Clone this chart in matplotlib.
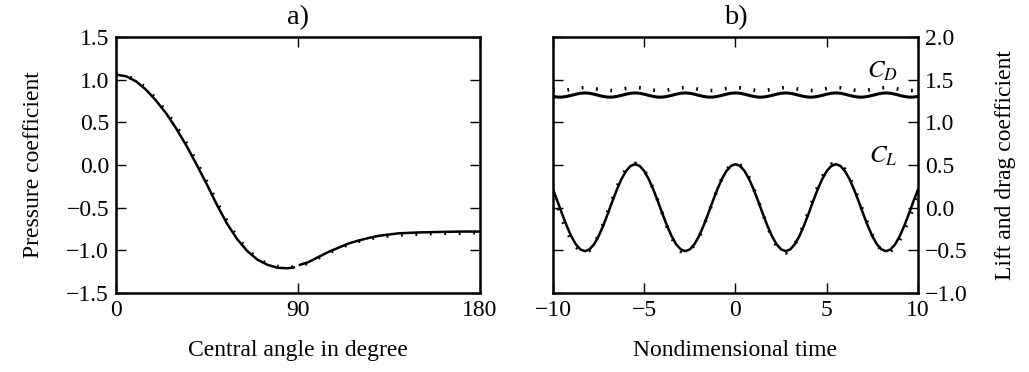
import matplotlib
matplotlib.use("Agg")
import matplotlib.pyplot as plt

# a) pressure coefficient over the cylinder surface
angle_front = [0, 5, 10, 15, 20, 25, 30, 35, 40, 45, 50, 55, 60, 65, 70, 75, 80, 85, 88]
cp_front = [1.06, 1.04, 0.98, 0.88, 0.75, 0.60, 0.42, 0.22, 0.00, -0.23, -0.47, -0.69,
            -0.87, -1.01, -1.11, -1.17, -1.205, -1.21, -1.20]
angle_back = [91, 95, 100, 105, 110, 115, 120, 125, 130, 135, 140, 150, 160, 170, 180]
cp_back = [-1.17, -1.14, -1.08, -1.02, -0.97, -0.92, -0.885, -0.855, -0.83, -0.815,
           -0.80, -0.79, -0.785, -0.78, -0.78]
angle_ref = [0, 5, 10, 15, 20, 25, 30, 35, 40, 45, 50, 55, 60, 65, 70, 75, 80, 85, 90,
             95, 100, 105, 110, 115, 120, 125, 130, 135, 140, 150, 160, 170, 180]
cp_ref = [1.07, 1.05, 0.99, 0.90, 0.77, 0.62, 0.45, 0.25, 0.03, -0.20, -0.44, -0.66,
          -0.85, -0.99, -1.10, -1.16, -1.19, -1.20, -1.19, -1.15, -1.09, -1.03, -0.98,
          -0.93, -0.895, -0.865, -0.845, -0.83, -0.82, -0.81, -0.80, -0.80, -0.79]

# b) lift and drag coefficient over time (step 0.25)
time = [-10 + 0.25 * i for i in range(81)]
cl = [0.212, 0.073, -0.073, -0.212, -0.334, -0.429, -0.489, -0.51, -0.489, -0.429,
      -0.334, -0.212, -0.073, 0.073, 0.212, 0.334, 0.429, 0.489, 0.51, 0.489,
      0.429, 0.334, 0.212, 0.073, -0.073, -0.212, -0.334, -0.429, -0.489, -0.51,
      -0.489, -0.429, -0.334, -0.212, -0.073, 0.073, 0.212, 0.334, 0.429, 0.489,
      0.51,
      0.489, 0.429, 0.334, 0.212, 0.073, -0.073, -0.212, -0.334, -0.429, -0.489,
      -0.51, -0.489, -0.429, -0.334, -0.212, -0.073, 0.073, 0.212, 0.334, 0.429,
      0.489, 0.51, 0.489, 0.429, 0.334, 0.212, 0.073, -0.073, -0.212, -0.334,
      -0.429, -0.489, -0.51, -0.489, -0.429, -0.334, -0.212, -0.073, 0.073, 0.212]
cl_ref = [0.15, 0.01, -0.14, -0.27, -0.38, -0.46, -0.51, -0.53, -0.50, -0.43,
          -0.32, -0.19, -0.05, 0.10, 0.24, 0.36, 0.45, 0.50, 0.52, 0.50,
          0.44, 0.34, 0.22, 0.08, -0.07, -0.22, -0.35, -0.45, -0.51, -0.53,
          -0.50, -0.44, -0.35, -0.22, -0.08, 0.07, 0.21, 0.34, 0.44, 0.50,
          0.52,
          0.50, 0.44, 0.35, 0.22, 0.08, -0.07, -0.22, -0.35, -0.45, -0.51,
          -0.53, -0.50, -0.43, -0.32, -0.19, -0.05, 0.10, 0.24, 0.36, 0.45,
          0.51, 0.52, 0.50, 0.45, 0.36, 0.24, 0.10, -0.05, -0.19, -0.32,
          -0.43, -0.50, -0.53, -0.51, -0.46, -0.38, -0.27, -0.14, 0.01, 0.15]
cd = [1.304, 1.296, 1.296, 1.304, 1.316, 1.330, 1.341, 1.345, 1.341, 1.330, 1.316,
      1.304, 1.296, 1.296, 1.304, 1.316, 1.330, 1.341, 1.345, 1.341, 1.330, 1.316,
      1.304, 1.296, 1.296, 1.304, 1.316, 1.330, 1.341, 1.345, 1.341, 1.330, 1.316,
      1.304, 1.296, 1.296, 1.304, 1.316, 1.330, 1.341, 1.345, 1.341, 1.330, 1.316,
      1.304, 1.296, 1.296, 1.304, 1.316, 1.330, 1.341, 1.345, 1.341, 1.330, 1.316,
      1.304, 1.296, 1.296, 1.304, 1.316, 1.330, 1.341, 1.345, 1.341, 1.330, 1.316,
      1.304, 1.296, 1.296, 1.304, 1.316, 1.330, 1.341, 1.345, 1.341, 1.330, 1.316,
      1.304, 1.296, 1.296, 1.304]
cd_ref = [1.378, 1.373, 1.373, 1.378, 1.387, 1.397, 1.405, 1.408, 1.405, 1.397, 1.387,
          1.378, 1.373, 1.373, 1.378, 1.387, 1.397, 1.405, 1.408, 1.405, 1.397, 1.387,
          1.378, 1.373, 1.373, 1.378, 1.387, 1.397, 1.405, 1.408, 1.405, 1.397, 1.387,
          1.378, 1.373, 1.373, 1.378, 1.387, 1.397, 1.405, 1.408, 1.405, 1.397, 1.387,
          1.378, 1.373, 1.373, 1.378, 1.387, 1.397, 1.405, 1.408, 1.405, 1.397, 1.387,
          1.378, 1.373, 1.373, 1.378, 1.387, 1.397, 1.405, 1.408, 1.405, 1.397, 1.387,
          1.378, 1.373, 1.373, 1.378, 1.387, 1.397, 1.405, 1.408, 1.405, 1.397, 1.387,
          1.378, 1.373, 1.373, 1.378]

plt.rcParams['font.family'] = 'serif'
plt.rcParams['font.serif'] = ['Liberation Serif', 'DejaVu Serif']
plt.rcParams['mathtext.fontset'] = 'stix'
plt.rcParams['font.size'] = 17
plt.rcParams['axes.linewidth'] = 1.8
plt.rcParams['xtick.direction'] = 'in'
plt.rcParams['ytick.direction'] = 'in'
plt.rcParams['xtick.major.size'] = 7
plt.rcParams['ytick.major.size'] = 7
plt.rcParams['xtick.major.width'] = 1.0
plt.rcParams['ytick.major.width'] = 1.0
plt.rcParams['xtick.major.pad'] = 5
plt.rcParams['ytick.major.pad'] = 5

fig = plt.figure(figsize=(10.29, 3.72), dpi=100)
ax1 = fig.add_axes([0.1127, 0.2124, 0.3537, 0.688])
ax2 = fig.add_axes([0.5374, 0.2124, 0.3547, 0.688])

dots = (0, (0.5, 3.5))

# left panel
ax1.plot(angle_front, cp_front, 'k-', lw=1.8)
ax1.plot(angle_back, cp_back, 'k-', lw=1.8)
ax1.plot(angle_ref, cp_ref, color='k', ls=dots, lw=2.6)
ax1.set_xlim(0, 180)
ax1.set_ylim(-1.5, 1.5)
ax1.set_xticks([0, 90, 180])
ax1.set_yticks([-1.5, -1.0, -0.5, 0.0, 0.5, 1.0, 1.5])
ax1.tick_params(top=True, right=True)
ax1.set_xlabel('Central angle in degree', labelpad=14)
ax1.set_ylabel('Pressure coefficient', labelpad=16)
ax1.set_title('a)', pad=9)

# right panel
ax2.plot(time, cd, 'k-', lw=2.2)
ax2.plot(time, cd_ref, color='k', ls=dots, lw=2.6)
ax2.plot(time, cl, 'k-', lw=1.8)
ax2.plot(time, cl_ref, color='k', ls=dots, lw=2.6)
ax2.set_xlim(-10, 10)
ax2.set_ylim(-1.0, 2.0)
ax2.set_xticks([-10, -5, 0, 5, 10])
ax2.set_yticks([-1.0, -0.5, 0.0, 0.5, 1.0, 1.5, 2.0])
ax2.yaxis.tick_right()
ax2.yaxis.set_label_position('right')
ax2.tick_params(top=True, left=True, labelleft=False)
ax2.set_xlabel('Nondimensional time', labelpad=14)
ax2.set_ylabel('Lift and drag coefficient', labelpad=20)
ax2.set_title('b)', pad=9)
ax2.text(8.9, 1.6, '$C_D$', ha='right', va='center', fontsize=18)
ax2.text(8.9, 0.6, '$C_L$', ha='right', va='center', fontsize=18)

fig.savefig('out.png', dpi=100)
